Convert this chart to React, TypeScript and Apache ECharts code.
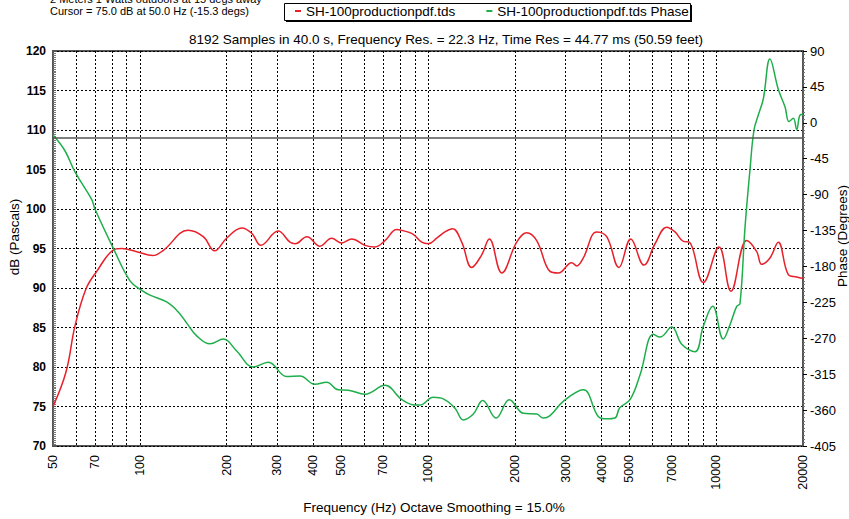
import React, { useEffect, useRef } from "react";
import * as echarts from "echarts";

// Magnitude (dB) curve
const redFreq = [50, 55.5, 59.6, 65.1, 70.9, 80.9, 86.5, 97.6, 111, 121, 147, 166, 182, 200, 226, 245, 263, 302, 332, 346, 380, 422, 463, 502, 544, 605, 655, 709, 779, 832, 889, 951, 1002, 1072, 1145, 1218, 1309, 1418, 1536, 1632, 1803, 2031, 2200, 2383, 2650, 2832, 3152, 3281, 3458, 3847, 4169, 4597, 5050, 5615, 6133, 6733, 7194, 7689, 8066, 9019, 10223, 11250, 12754, 13818, 14372, 15358, 16414, 17782, 19018, 20000];
const redDb = [75.0, 79.4, 85.2, 89.9, 92.1, 94.8, 95.0, 94.6, 94.1, 94.8, 97.3, 96.5, 94.7, 96.3, 97.6, 96.9, 95.4, 97.2, 95.8, 95.6, 96.5, 95.3, 96.3, 95.7, 96.2, 95.4, 95.2, 96.0, 97.4, 97.2, 96.8, 95.8, 95.6, 96.3, 97.1, 97.5, 95.8, 92.6, 94.2, 96.2, 91.9, 95.8, 97.0, 96.0, 92.1, 91.9, 93.2, 92.8, 93.8, 97.1, 96.5, 92.6, 96.2, 92.9, 95.6, 97.7, 97.1, 95.9, 95.8, 90.7, 95.2, 89.6, 96.0, 94.6, 93.0, 93.8, 95.8, 91.7, 91.4, 91.2];

// Phase (degrees) curve
const phaseFreq = [50, 55.0, 59.6, 68.1, 69.9, 80.9, 92.5, 101.6, 108.5, 124, 136, 145.5, 157.6, 175.3, 195, 216.9, 247.7, 279.2, 323.5, 359.7, 405.4, 445, 488.4, 529, 604.5, 709.3, 810.5, 901, 938, 1043, 1130, 1241, 1326, 1436, 1548, 1722, 1915, 2141, 2383, 2512, 2650, 2947, 3458, 3897, 4169, 4453, 4626, 5021, 5439, 6049, 6381, 7007, 7590, 8439, 9019, 9723, 10580, 11160, 11775, 12090, 12585, 13100, 13520, 13995, 14565, 15358, 16414, 17320, 17885, 18510, 19018, 19525, 20000];
const phaseDeg = [-15.3, -35, -61.5, -96, -108, -157, -198, -210, -216, -224.5, -237, -251, -267, -277, -271, -286, -306, -300, -318, -317.4, -327.6, -325, -334.5, -335, -340, -329, -346.7, -353.7, -353.7, -344, -346, -357.7, -372.4, -365, -348, -370, -347, -364, -365, -370, -367, -349, -334.5, -368, -371, -370, -357, -347, -316, -265, -268.5, -256, -277.5, -287, -255, -230, -271, -253, -230, -226.6, -131, -58, -9, 9.7, 30, 80, 42, 20, 1.6, 5.7, -8.6, 9.7, 10.6];

// Axes
const labelFreq = [50, 70, 100, 200, 300, 400, 500, 700, 1000, 2000, 3000, 4000, 5000, 7000, 10000, 20000];
const gridFreq = [60, 70, 80, 90, 100, 200, 243, 300, 400, 500, 600, 700, 800, 900, 1000, 2000, 3000, 4000, 5000, 6000, 7000, 8000, 9000, 10000];
const cursorLevel = 109;

const seriesNames = ["SH-100productionpdf.tds", "SH-100productionpdf.tds Phase"];
const titleText = "8192 Samples in 40.0 s, Frequency Res. = 22.3 Hz, Time Res = 44.77 ms (50.59 feet)";
const noteLine1 = "2 Meters 1 Watts outdoors at 15 degs away";
const noteLine2 = "Cursor = 75.0 dB at 50.0 Hz (-15.3 degs)";

export default function App() {
  const ref = useRef<HTMLDivElement>(null);
  useEffect(() => {
    document.body.style.margin = "0";
    const chart = echarts.init(ref.current!, null, { renderer: "svg" });
    const font = "'Liberation Sans', Arial, Helvetica, sans-serif";
    const lg = (v: number) => Math.log10(v);
    const baseGraphics: any[] = [
      { type: "text", left: 50, top: -7, style: { text: noteLine1, fontSize: 11, fill: "#000", fontFamily: font } },
      { type: "text", left: 50, top: 5, style: { text: noteLine2, fontSize: 11, fill: "#000", fontFamily: font } },
      { type: "rect", shape: { x: 286, y: 5, width: 406, height: 17 }, style: { fill: "#000" } },
      { type: "rect", shape: { x: 284.5, y: 3.5, width: 406, height: 17 }, style: { fill: "#fff", stroke: "#000", lineWidth: 1 } },
      {
        type: "text",
        x: 14,
        y: 237,
        rotation: Math.PI / 2,
        style: { text: "dB (Pascals)", fontSize: 13.5, fill: "#000", align: "center", verticalAlign: "middle", fontFamily: font },
      },
      {
        type: "text",
        x: 842,
        y: 236,
        rotation: Math.PI / 2,
        style: { text: "Phase (Degrees)", fontSize: 13.5, fill: "#000", align: "center", verticalAlign: "middle", fontFamily: font },
      },
    ];
    chart.setOption({
      animation: false,
      backgroundColor: "#fff",
      textStyle: { fontFamily: font, color: "#000" },
      title: {
        text: titleText,
        left: 189,
        top: 32,
        padding: 0,
        textStyle: { fontSize: 13.5, fontWeight: "normal", color: "#000", fontFamily: font },
      },
      legend: {
        data: seriesNames,
        left: 295,
        top: 4,
        padding: 0,
        itemGap: 31,
        itemWidth: 6,
        itemHeight: 2,
        icon: "rect",
        textStyle: { fontSize: 13.5, color: "#000", fontFamily: font },
      },
      grid: {
        left: 53,
        right: 46,
        top: 51,
        bottom: 63,
        show: true,
        borderColor: "#555",
        borderWidth: 2,
      },
      xAxis: {
        type: "value",
        min: lg(50),
        max: lg(20000),
        name: "Frequency (Hz) Octave Smoothing = 15.0%",
        nameLocation: "middle",
        nameGap: 54,
        nameTextStyle: { fontSize: 13.5, color: "#000", padding: [0, 0, 0, 12] },
        axisLine: { show: false },
        axisTick: { show: false, customValues: gridFreq.map(lg) },
        axisLabel: { show: false },
        splitLine: { show: true, lineStyle: { color: "#000", type: [2, 2], width: 1 } },
      },
      yAxis: [
        {
          type: "value",
          min: 70,
          max: 120,
          interval: 5,
          position: "left",
          axisLine: { show: true, lineStyle: { color: "#555", width: 2 } },
          axisTick: { show: true, inside: true, length: 3, lineStyle: { color: "#555" } },
          minorTick: { show: true, splitNumber: 20, length: 3, lineStyle: { color: "#777" } },
          axisLabel: { fontSize: 12, fontWeight: "bold", color: "#000", margin: 7 },
          splitLine: { show: true, lineStyle: { color: "#000", type: [2, 2], width: 1 } },
        },
        {
          type: "value",
          min: -405,
          max: 90,
          interval: 45,
          position: "right",
          axisLine: { show: true, lineStyle: { color: "#555", width: 2 } },
          axisTick: { show: true, length: 4, lineStyle: { color: "#000" } },
          minorTick: { show: true, splitNumber: 10, length: 2, lineStyle: { color: "#777" } },
          axisLabel: { fontSize: 13, color: "#000", margin: 7 },
          splitLine: { show: false },
        },
      ],
      graphic: baseGraphics,
      series: [
        {
          name: seriesNames[0],
          type: "line",
          yAxisIndex: 0,
          data: redFreq.map((f, i) => [lg(f), redDb[i]]),
          smooth: 0.4,
          symbol: "none",
          lineStyle: { color: "#e8202a", width: 1.5 },
          itemStyle: { color: "#e8202a" },
          markLine: {
            silent: true,
            symbol: "none",
            label: { show: false },
            lineStyle: { color: "#555", type: "solid", width: 1.5 },
            data: [{ yAxis: cursorLevel }],
          },
        },
        {
          name: seriesNames[1],
          type: "line",
          yAxisIndex: 1,
          data: phaseFreq.map((f, i) => [lg(f), phaseDeg[i]]),
          smooth: 0.4,
          symbol: "none",
          lineStyle: { color: "#1fae4b", width: 1.5 },
          itemStyle: { color: "#1fae4b" },
        },
      ],
    });
    // Frequency tick labels, rotated, positioned through the chart's own axis scale
    const yBase = chart.convertToPixel({ yAxisIndex: 0 }, 70) as number;
    const labelGraphics = labelFreq.map((f) => ({
      type: "text",
      x: chart.convertToPixel({ xAxisIndex: 0 }, lg(f)) as number,
      y: yBase + 9,
      rotation: Math.PI / 2,
      style: {
        text: String(f),
        align: "right",
        verticalAlign: "middle",
        fontSize: 12.5,
        fill: "#000",
        fontFamily: font,
      },
    }));
    chart.setOption({ graphic: [...baseGraphics, ...labelGraphics] });
    return () => chart.dispose();
  }, []);
  return <div ref={ref} style={{ position: "absolute", left: 0, top: 0, width: 849, height: 519, background: "#fff" }} />;
}
